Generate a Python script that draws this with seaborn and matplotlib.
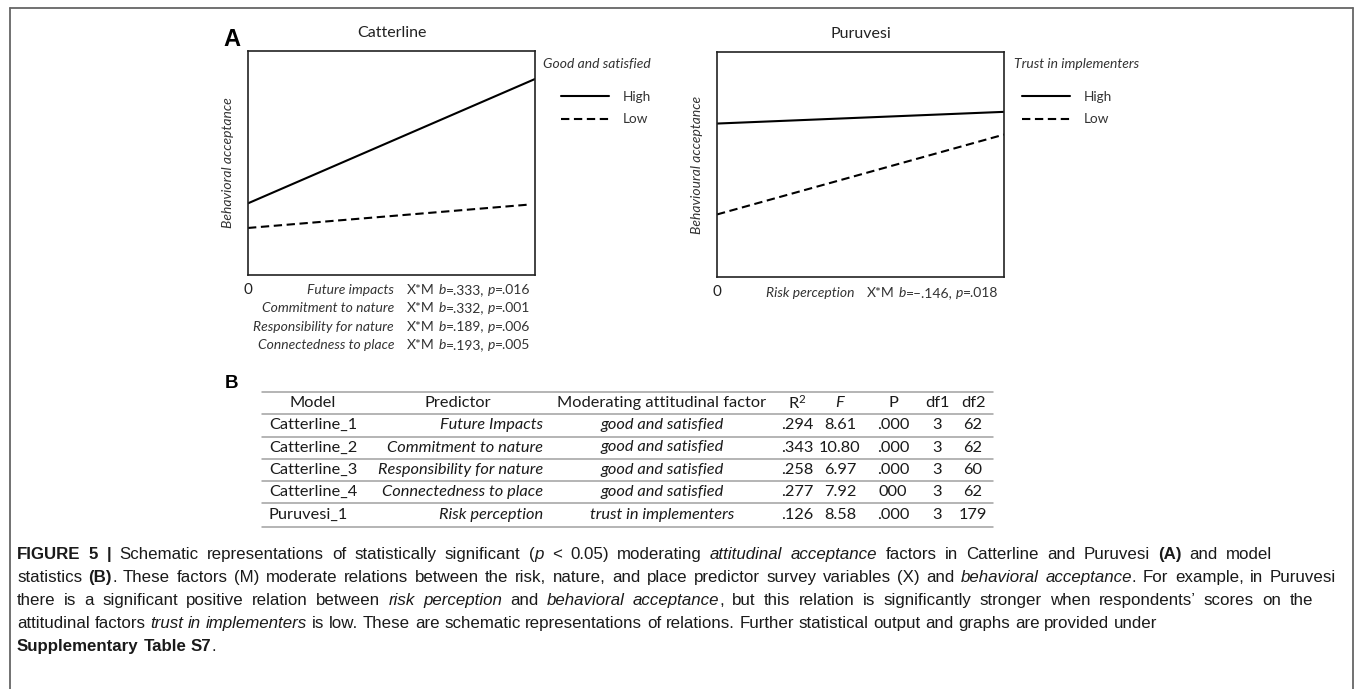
import numpy as np
import pandas as pd
import matplotlib
matplotlib.use('Agg')
import matplotlib.pyplot as plt
import seaborn as sns

# ---- panel A: schematic simple slopes (x and y in 0..1 of each box) ----
cat_x_high = [0.0, 1.0]
cat_high = [0.32, 0.875]
cat_x_low = [0.0, 0.985]
cat_low = [0.21, 0.315]

pur_x_high = [0.0, 1.0]
pur_high = [0.682, 0.734]
pur_x_low = [0.0, 1.0]
pur_low = [0.278, 0.633]

levels = ['High', 'Low']

cat_predictors = ['Future impacts', 'Commitment to nature',
                  'Responsibility for nature', 'Connectedness to place']
cat_b = ['.333', '.332', '.189', '.193']
cat_p = ['.016', '.001', '.006', '.005']
pur_predictors = ['Risk perception']
pur_b = ['\u2013.146']
pur_p = ['.018']

# ---- panel B: model statistics ----
tbl_model = ['Catterline_1', 'Catterline_2', 'Catterline_3', 'Catterline_4', 'Puruvesi_1']
tbl_pred = ['Future Impacts', 'Commitment to nature', 'Responsibility for nature',
            'Connectedness to place', 'Risk perception']
tbl_mod = ['good and satisfied', 'good and satisfied', 'good and satisfied',
           'good and satisfied', 'trust in implementers']
tbl_r2 = ['.294', '.343', '.258', '.277', '.126']
tbl_f = ['8.61', '10.80', '6.97', '7.92', '8.58']
tbl_p = ['.000', '.000', '.000', '000', '.000']
tbl_df1 = ['3', '3', '3', '3', '3']
tbl_df2 = ['62', '62', '60', '62', '179']

sns.set_style('white')
plt.rcParams['font.family'] = ['Lato', 'DejaVu Sans']
plt.rcParams['mathtext.fontset'] = 'custom'
plt.rcParams['mathtext.rm'] = 'Lato'
plt.rcParams['mathtext.it'] = 'Lato:italic'

W, H = 1355, 689
fig = plt.figure(figsize=(W / 100, H / 100), dpi=100)
fig.patch.set_facecolor('white')

# overlay in pixel units (y downwards) for the free text
ov = fig.add_axes([0, 0, 1, 1])
ov.set_xlim(0, W)
ov.set_ylim(H, 0)
ov.axis('off')
rend = fig.canvas.get_renderer()


def text_w(s, **kw):
    t = ov.text(0, 0, s, **kw)
    w = t.get_window_extent(renderer=rend).width
    t.remove()
    return w


def draw_runs(x, y, runs, size, family, ha='left', color='#222222',
              justify_to=None, max_extra=3.5):
    pieces = []
    for txt, st in runs:
        parts = txt.split(' ')
        for k, part in enumerate(parts):
            if k > 0:
                pieces.append((None, st))
            if part:
                pieces.append((part, st))
    sp = text_w('x x', fontsize=size, family=family) - text_w('xx', fontsize=size, family=family)
    kws = []
    widths = []
    for part, st in pieces:
        kw = dict(fontsize=size, family=family,
                  style='italic' if st == 'i' else 'normal',
                  weight='bold' if st == 'b' else 'normal')
        kws.append(kw)
        widths.append(sp if part is None else text_w(part, **kw))
    total = sum(widths)
    extra = 0
    if justify_to is not None:
        n_sp = sum(1 for p, _ in pieces if p is None)
        extra = min((justify_to - x - total) / max(n_sp, 1), max_extra)
    if ha == 'right':
        x = x - total
    elif ha == 'center':
        x = x - total / 2
    for (part, st), kw, w in zip(pieces, kws, widths):
        if part is not None:
            ov.text(x, y, part, va='baseline', ha='left', color=color, **kw)
            x += w
        else:
            x += w + extra


# figure frame
ov.plot([10, 10], [8, H], color='#666666', lw=1.3)
ov.plot([10, 1353], [8, 8], color='#666666', lw=1.3)
ov.plot([1353, 1353], [8, H], color='#666666', lw=1.3)

# ---- panel A ----
panels = [
    dict(rect=[248 / W, (H - 275) / H, 287 / W, 224 / H], title='Catterline',
         ylab='Behavioral acceptance', xh=cat_x_high, yh=cat_high, xl=cat_x_low, yl=cat_low,
         mod='Good and satisfied', leg_x=561, title_x=543),
    dict(rect=[717 / W, (H - 277) / H, 287 / W, 225 / H], title='Puruvesi',
         ylab='Behavioural acceptance', xh=pur_x_high, yh=pur_high, xl=pur_x_low, yl=pur_low,
         mod='Trust in implementers', leg_x=1022, title_x=1014),
]
for pn in panels:
    ax = fig.add_axes(pn['rect'])
    df = pd.DataFrame({'x': pn['xh'] + pn['xl'], 'y': pn['yh'] + pn['yl'],
                       'level': [levels[0]] * len(pn['xh']) + [levels[1]] * len(pn['xl'])})
    sns.lineplot(data=df, x='x', y='y', style='level', dashes={'High': '', 'Low': (4, 2.2)},
                 color='black', lw=1.5, ax=ax, legend=False)
    ax.set_xlim(0, 1)
    ax.set_ylim(0, 1)
    ax.set_xticks([0])
    ax.set_xticklabels(['0'], fontsize=11, color='#222222')
    ax.set_yticks([])
    ax.tick_params(axis='x', length=0, pad=6)
    ax.set_xlabel('')
    ax.set_ylabel(pn['ylab'], fontsize=10, style='italic', color='#333333', labelpad=10)
    ax.set_title(pn['title'], fontsize=11.5, color='#222222', pad=10)
    for s in ax.spines.values():
        s.set_color('#222222')
        s.set_linewidth(1.2)
        s.set_visible(True)
    ov.text(pn['title_x'], 64, pn['mod'], fontsize=10, style='italic', color='#333333',
            ha='left', va='center')
    ax.legend(ax.get_lines()[:2], levels, loc='center left',
              bbox_to_anchor=(pn['leg_x'], 108), bbox_transform=ov.transData,
              frameon=False, fontsize=9.8, borderpad=0, borderaxespad=0,
              handlelength=3.5, handletextpad=1.05, labelspacing=0.78,
              labelcolor='#333333')

# panel letters
ov.text(232, 39, 'A', fontsize=17, weight='bold', family='Liberation Sans',
        ha='center', va='center', color='black')
ov.text(231, 383, 'B', fontsize=13.5, weight='bold', family='Liberation Sans',
        ha='center', va='center', color='black')

# moderation stats under the boxes
for i, (pr, b, p) in enumerate(zip(cat_predictors, cat_b, cat_p)):
    yb = 294 + i * 18.3
    ov.text(394, yb, pr, fontsize=10, style='italic', color='#333333', ha='right', va='baseline')
    draw_runs(407, yb, [('X*M ', ''), ('b', 'i'), ('=' + b + ', ', ''), ('p', 'i'), ('=' + p, '')],
              10, 'Lato', color='#333333')
for i, (pr, b, p) in enumerate(zip(pur_predictors, pur_b, pur_p)):
    yb = 297 + i * 18.3
    ov.text(854, yb, pr, fontsize=10, style='italic', color='#333333', ha='right', va='baseline')
    draw_runs(867, yb, [('X*M ', ''), ('b', 'i'), ('=' + b + ', ', ''), ('p', 'i'), ('=' + p, '')],
              10, 'Lato', color='#333333')

# ---- panel B table ----
line_y = [392, 413.5, 436.5, 458.5, 481, 503, 526.5]
for ly in line_y:
    ov.plot([262, 993], [ly, ly], color='#a0a0a0', lw=1.1)

tfs = 11.8
tc = '#1a1a1a'
hy = 403
ov.text(313, hy, 'Model', fontsize=tfs, color=tc, ha='center', va='center')
ov.text(458, hy, 'Predictor', fontsize=tfs, color=tc, ha='center', va='center')
ov.text(662, hy, 'Moderating attitudinal factor', fontsize=tfs, color=tc, ha='center', va='center')
ov.text(797, hy, 'R$^{2}$', fontsize=tfs, color=tc, ha='center', va='center')
ov.text(840, hy, 'F', fontsize=tfs, style='italic', color=tc, ha='center', va='center')
ov.text(893, hy, 'P', fontsize=tfs, color=tc, ha='center', va='center')
ov.text(937, hy, 'df1', fontsize=tfs, color=tc, ha='center', va='center')
ov.text(973, hy, 'df2', fontsize=tfs, color=tc, ha='center', va='center')

row_y = [425, 447.5, 470, 492, 515]
for i, ry in enumerate(row_y):
    ov.text(269, ry, tbl_model[i], fontsize=tfs, color=tc, ha='left', va='center')
    ov.text(543, ry, tbl_pred[i], fontsize=tfs, style='italic', color=tc, ha='right', va='center')
    ov.text(662, ry, tbl_mod[i], fontsize=tfs, style='italic', color=tc, ha='center', va='center')
    ov.text(797, ry, tbl_r2[i], fontsize=tfs, color=tc, ha='center', va='center')
    ov.text(840, ry, tbl_f[i], fontsize=tfs, color=tc, ha='center', va='center')
    ov.text(893, ry, tbl_p[i], fontsize=tfs, color=tc, ha='center', va='center')
    ov.text(937, ry, tbl_df1[i], fontsize=tfs, color=tc, ha='center', va='center')
    ov.text(973, ry, tbl_df2[i], fontsize=tfs, color=tc, ha='center', va='center')

# ---- caption ----
caption = [
    [('FIGURE 5 |', 'b'), (' Schematic representations of statistically significant (', ''), ('p', 'i'),
     (' < 0.05) moderating ', ''), ('attitudinal acceptance', 'i'),
     (' factors in Catterline and Puruvesi ', ''), ('(A)', 'b'), (' and model', '')],
    [('statistics ', ''), ('(B)', 'b'),
     ('. These factors (M) moderate relations between the risk, nature, and place predictor survey variables (X) and ', ''),
     ('behavioral acceptance', 'i'), ('. For example, in Puruvesi', '')],
    [('there is a significant positive relation between ', ''), ('risk perception', 'i'), (' and ', ''),
     ('behavioral acceptance', 'i'),
     (', but this relation is significantly stronger when respondents\u2019 scores on the', '')],
    [('attitudinal factors ', ''), ('trust in implementers', 'i'),
     (' is low. These are schematic representations of relations. Further statistical output and graphs are provided under', '')],
    [('Supplementary Table S7', 'b'), ('.', '')],
]
for i, runs in enumerate(caption):
    just = 1336 if i < 3 else None
    draw_runs(17, 559 + i * 23, runs, 12.2, 'Liberation Sans', color='#1a1a1a', justify_to=just)

fig.savefig('out.png', dpi=100, facecolor='white')
